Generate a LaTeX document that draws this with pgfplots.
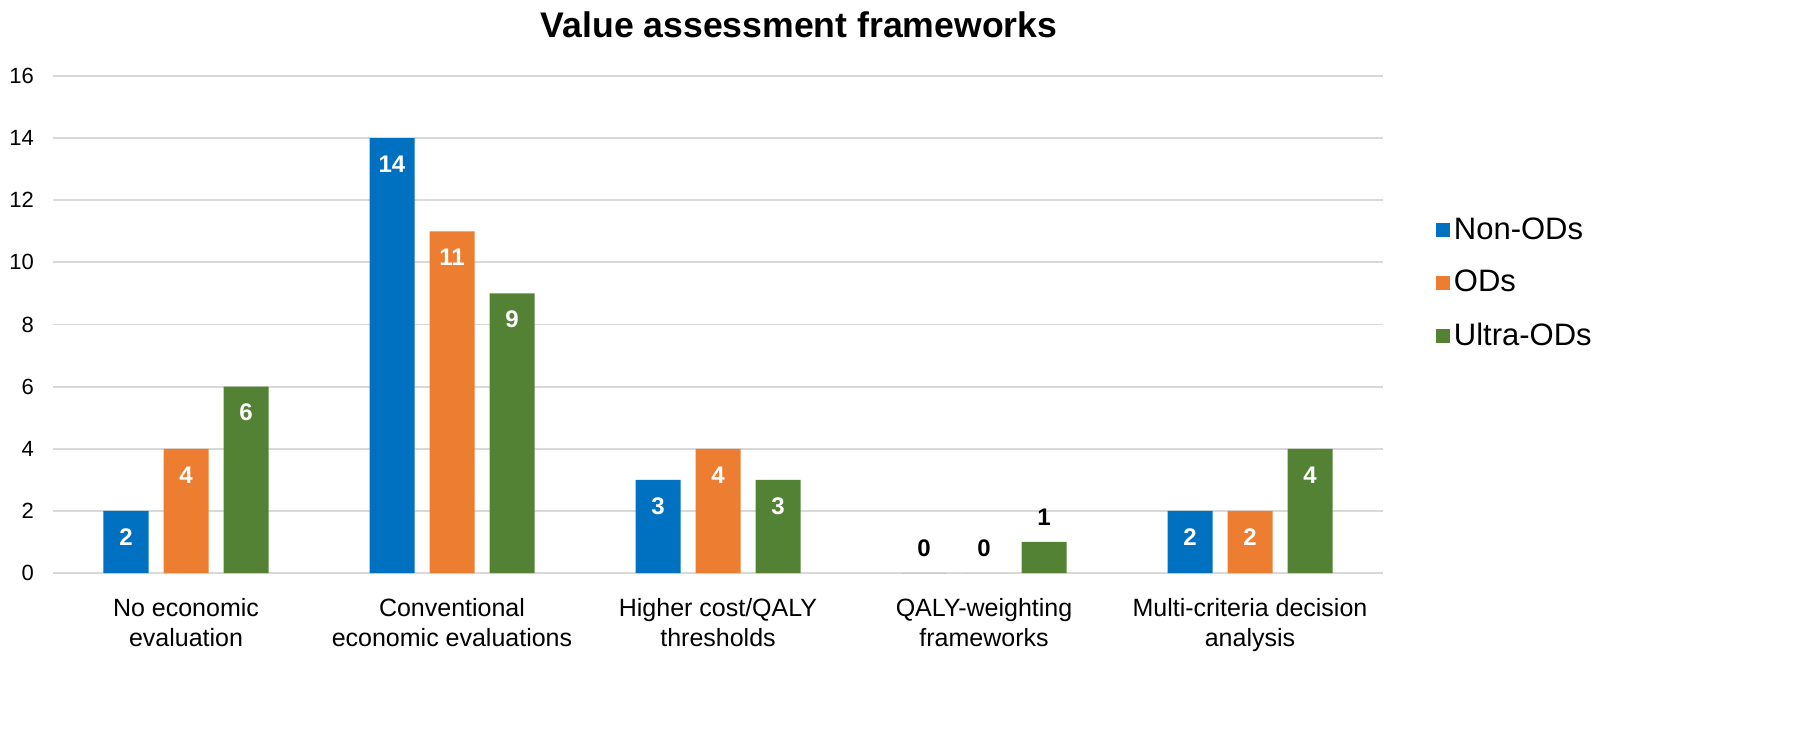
\documentclass[border=0pt]{standalone}
\usepackage{pgfplots}
\pgfplotsset{compat=1.18}
\usepackage{fontspec}
\setmainfont{Liberation Sans}
\definecolor{cBlue}{HTML}{0070C0}
\definecolor{cOrange}{HTML}{ED7D31}
\definecolor{cGreen}{HTML}{548235}
\definecolor{cGrid}{HTML}{D9D9D9}
\begin{document}
\begin{tikzpicture}
\useasboundingbox (-26.5bp,-90bp) rectangle (873.5bp,286.5bp);
\begin{axis}[
  at={(0,0)}, anchor=south west,
  scale only axis,
  width=665bp, height=248.5bp,
  /pgf/number format/assume math mode=true,
  ybar=7.5bp, bar width=22.5bp,
  xmin=-0.5, xmax=4.5,
  ymin=0, ymax=16,
  ytick={0,2,...,16},
  xtick={0,1,2,3,4},
  xticklabels={{No economic\\evaluation},{Conventional\\economic evaluations},{Higher cost/QALY\\thresholds},{QALY-weighting\\frameworks},{Multi-criteria decision\\analysis}},
  xticklabel style={align=center, font=\fontsize{12.5bp}{15bp}\selectfont, yshift=-5bp},
  yticklabel style={font=\fontsize{11bp}{13bp}\selectfont, xshift=-6bp},
  axis line style={draw=none},
  tick style={draw=none},
  ymajorgrids,
  grid style={cGrid, line width=0.9bp},
  title={\bfseries Value assessment frameworks},
  title style={at={(0.561,1)}, anchor=center, yshift=19.5bp, font=\fontsize{17.8bp}{20bp}\selectfont},
  legend style={at={(1.035,0.5835)}, anchor=west, draw=none, fill=none,
    font=\fontsize{15.5bp}{18bp}\selectfont, row sep=10bp,
    /tikz/every even column/.append style={column sep=2bp}},
  legend cell align=left,
  legend image code/.code={\fill[#1] (0bp,-3.5bp) rectangle (7bp,3.5bp);},
  visualization depends on={ifthenelse(y<1.5,1,0) \as \isSmall},
  visualization depends on={ifthenelse(y<1.5,12.5,-13) \as \myshift},
  nodes near coords={\ifdim\isSmall pt>0.5pt \color{black}\else\color{white}\fi\pgfmathprintnumber{\pgfplotspointmeta}},
  every node near coord/.append style={anchor=center, yshift=\myshift bp, font=\bfseries\fontsize{12bp}{14bp}\selectfont},
]
\addplot[draw=none, fill=cBlue] coordinates {(0,2) (1,14) (2,3) (3,0) (4,2)};
\addplot[draw=none, fill=cOrange] coordinates {(0,4) (1,11) (2,4) (3,0) (4,2)};
\addplot[draw=none, fill=cGreen] coordinates {(0,6) (1,9) (2,3) (3,1) (4,4)};
\legend{Non-ODs, ODs, Ultra-ODs}
\end{axis}
\end{tikzpicture}
\end{document}
